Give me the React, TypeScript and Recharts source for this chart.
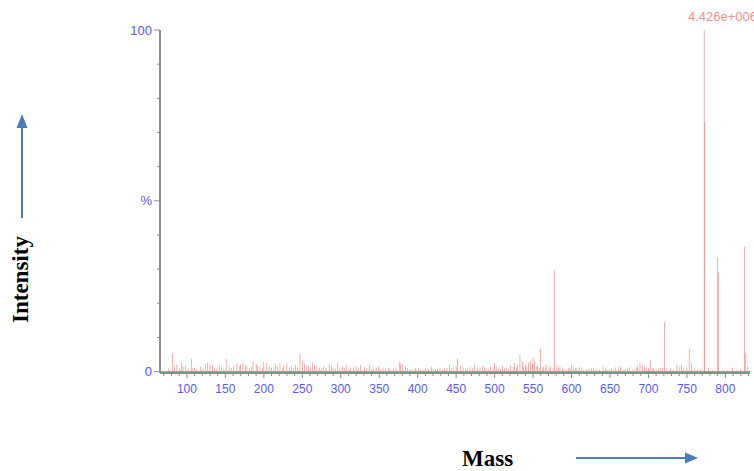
import { BarChart, Bar, XAxis, YAxis, ReferenceLine } from "recharts";

// m/z values and relative intensity (%)
const masses = [
  81, 87, 93, 98, 106, 110, 118, 124, 127, 130, 136, 142, 151, 155, 161, 165, 170, 173, 178, 186,
  190, 195, 200, 204, 210, 215, 221, 226, 230, 236, 241, 247, 250, 253, 258, 263, 266, 272, 278, 285,
  290, 296, 302, 308, 313, 320, 326, 331, 337, 343, 349, 355, 362, 369, 376, 380, 384, 390, 397, 404,
  410, 418, 423, 429, 435, 441, 447, 452, 456, 462, 468, 474, 478, 484, 489, 495, 500, 505, 510, 515,
  521, 526, 530, 533, 536, 540, 544, 547, 550, 552, 556, 560, 564, 568, 573, 578, 581, 585, 590, 596,
  600, 603, 607, 613, 620, 626, 632, 641, 646, 652, 657, 664, 670, 675, 684, 689, 692, 697, 703, 707,
  713, 721, 729, 737, 743, 753, 756, 760, 772.4, 773.2, 778, 789.5, 791, 797, 809, 815, 824.8, 825.8, 829,
];
const intensities = [
  5.3, 2.0, 2.5, 1.8, 3.8, 1.2, 1.5, 2.2, 2.6, 2.4, 1.0, 2.0, 3.8, 1.5, 1.8, 2.4, 2.2, 2.6, 1.5, 3.0,
  2.2, 1.5, 2.8, 2.5, 1.2, 2.2, 2.5, 1.8, 2.4, 1.6, 2.0, 5.4, 3.2, 2.4, 1.5, 2.6, 1.8, 1.2, 1.5, 2.2,
  1.2, 2.6, 1.5, 2.0, 1.2, 1.6, 2.0, 1.4, 2.1, 1.0, 1.5, 1.0, 1.2, 0.8, 2.8, 2.2, 1.5, 0.8, 1.0, 0.6,
  1.0, 1.4, 0.8, 1.3, 1.0, 2.0, 1.4, 3.8, 1.8, 1.0, 1.3, 2.0, 1.2, 1.6, 1.0, 1.4, 2.5, 1.0, 1.6, 1.2,
  1.8, 2.5, 2.0, 5.0, 3.0, 2.0, 2.6, 3.2, 4.0, 3.0, 1.8, 6.6, 1.5, 2.0, 1.4, 29.6, 2.0, 1.5, 0.8, 1.0,
  2.0, 1.4, 1.0, 1.2, 0.8, 1.0, 0.8, 1.4, 0.6, 1.0, 1.2, 1.4, 0.8, 1.3, 1.2, 2.5, 1.8, 1.2, 3.3, 1.0,
  1.0, 14.5, 1.0, 2.0, 2.0, 6.7, 2.5, 1.0, 100, 73, 1.0, 33.5, 29, 0.6, 1.2, 0.6, 36.6, 5.3, 1.5,
];

// low-level background ions between the main ones
const noiseMasses = [
  76, 84, 90, 95, 102, 108, 113, 121, 133, 139, 145, 148, 158, 168, 176, 181, 184, 192, 198, 207,
  213, 218, 224, 233, 239, 244, 256, 261, 269, 275, 281, 288, 293, 299, 305, 311, 317, 323, 334, 340,
  346, 352, 358, 365, 372, 378, 387, 394, 401, 407, 414, 420, 426, 432, 438, 444, 450, 459, 465, 471,
  481, 487, 492, 498, 502, 508, 513, 518, 524, 528, 538, 542, 549, 554, 558, 562, 566, 571, 576, 583,
  588, 593, 598, 605, 610, 616, 623, 629, 636, 644, 649, 655, 661, 667, 673, 680, 686, 695, 700, 705,
  710, 716, 718, 724, 732, 740, 746, 750, 764, 768, 783, 802, 820,
];
const noiseIntensities = [
  0.8, 1.4, 1.0, 1.6, 0.9, 1.1, 0.8, 1.2, 1.9, 0.9, 1.3, 0.7, 1.1, 1.6, 2.0, 1.0, 1.4, 1.8, 1.2, 1.6,
  0.9, 1.4, 1.0, 1.2, 0.9, 1.3, 1.9, 1.2, 1.6, 0.9, 1.1, 1.5, 0.8, 1.2, 1.0, 0.7, 1.3, 0.9, 1.0, 0.8,
  1.2, 0.7, 0.9, 0.6, 0.9, 2.4, 1.0, 0.7, 0.9, 0.6, 0.8, 0.6, 0.9, 0.7, 1.1, 0.9, 1.5, 1.2, 0.8, 1.0,
  0.9, 1.3, 0.7, 1.1, 1.6, 0.8, 1.0, 0.9, 1.4, 1.2, 1.6, 1.4, 2.2, 1.5, 1.2, 1.0, 1.2, 1.0, 1.1, 1.2,
  0.9, 0.7, 1.2, 0.9, 1.3, 0.6, 0.7, 1.0, 0.6, 0.9, 0.7, 0.6, 0.8, 0.6, 0.9, 0.8, 1.6, 1.4, 1.0, 0.9,
  0.7, 0.9, 1.2, 1.0, 0.7, 1.3, 0.9, 1.2, 0.6, 0.8, 0.5, 0.5, 0.7,
];

const xTickValues = [
  70, 80, 90, 100, 110, 120, 130, 140, 150, 160, 170, 180, 190, 200, 210, 220, 230, 240, 250, 260,
  270, 280, 290, 300, 310, 320, 330, 340, 350, 360, 370, 380, 390, 400, 410, 420, 430, 440, 450, 460,
  470, 480, 490, 500, 510, 520, 530, 540, 550, 560, 570, 580, 590, 600, 610, 620, 630, 640, 650, 660,
  670, 680, 690, 700, 710, 720, 730, 740, 750, 760, 770, 780, 790, 800, 810, 820, 830,
];
const xTickLabels = [100, 150, 200, 250, 300, 350, 400, 450, 500, 550, 600, 650, 700, 750, 800];
const yTickValues = [0, 10, 20, 30, 40, 50, 60, 70, 80, 90, 100];
const yTickLabels: Record<number, string> = { 0: "0", 50: "%", 100: "100" };

const data = [
  ...masses.map((m, i) => ({ mass: m, intensity: intensities[i] })),
  ...noiseMasses.map((m, i) => ({ mass: m, intensity: noiseIntensities[i] })),
].sort((a, b) => a.mass - b.mass);

const AXIS = "#8c8c8c";
const BLUE = "#5a5af5";
const PEAK = "#f26d6d";
const ARROW = "#4a7ebb";

const XTick = ({ x, y, payload }: any) => {
  const v = payload.value;
  const major = xTickLabels.includes(v);
  return (
    <g>
      <line x1={x} x2={x} y1={y} y2={y + (major ? 5 : 3)} stroke={AXIS} />
      {major && (
        <text x={x} y={y + 20} textAnchor="middle" fill={BLUE} fontSize={12} fontFamily="Liberation Sans, Arial">
          {v}
        </text>
      )}
    </g>
  );
};

const YTick = ({ x, y, payload }: any) => {
  const label = yTickLabels[payload.value];
  return (
    <g>
      <line x1={x - (label ? 6 : 3)} x2={x} y1={y} y2={y} stroke={AXIS} />
      {label && (
        <text x={x - 8} y={y + 4.5} textAnchor="end" fill={BLUE} fontSize={13} fontFamily="Liberation Sans, Arial">
          {label}
        </text>
      )}
    </g>
  );
};

export default function App() {
  return (
    <div style={{ position: "absolute", left: 0, top: 0, width: 754, height: 471, background: "#fff", overflow: "hidden" }}>
      <BarChart width={754} height={471} data={data} margin={{ top: 30, right: 4, bottom: 68, left: 120 }}>
        <XAxis
          dataKey="mass"
          type="number"
          domain={[65, 832]}
          ticks={xTickValues}
          interval={0}
          height={30}
          tickSize={0}
          tickMargin={0}
          tickLine={false}
          tick={<XTick />}
          axisLine={{ stroke: AXIS, strokeWidth: 2 }}
        />
        <YAxis
          type="number"
          domain={[-0.4, 100]}
          ticks={yTickValues}
          interval={0}
          width={40}
          tickSize={0}
          tickMargin={0}
          tickLine={false}
          tick={<YTick />}
          axisLine={{ stroke: AXIS, strokeWidth: 2 }}
        />
        <ReferenceLine y={0} stroke={PEAK} strokeWidth={1} />
        <Bar dataKey="intensity" fill={PEAK} barSize={1.5} isAnimationActive={false} />
      </BarChart>
      <svg width={754} height={471} style={{ position: "absolute", left: 0, top: 0, pointerEvents: "none" }}>
        <text x={688} y={21} fill="#f39090" fontSize={13} fontFamily="Liberation Sans, Arial">
          4.426e+006
        </text>
        <line x1={22} y1={218} x2={22} y2={126} stroke={ARROW} strokeWidth={2} />
        <polygon points="22,114 16.5,128 27.5,128" fill={ARROW} />
        <text transform="translate(28, 323) rotate(-90)" fontSize={23} fontWeight="bold" fontFamily="Liberation Serif, Times New Roman, serif" fill="#000">
          Intensity
        </text>
        <text x={462} y={466} fontSize={23} fontWeight="bold" fontFamily="Liberation Serif, Times New Roman, serif" fill="#000">
          Mass
        </text>
        <line x1={576} y1={458} x2={687} y2={458} stroke={ARROW} strokeWidth={2} />
        <polygon points="698,458 685,452.5 685,463.5" fill={ARROW} />
      </svg>
    </div>
  );
}
